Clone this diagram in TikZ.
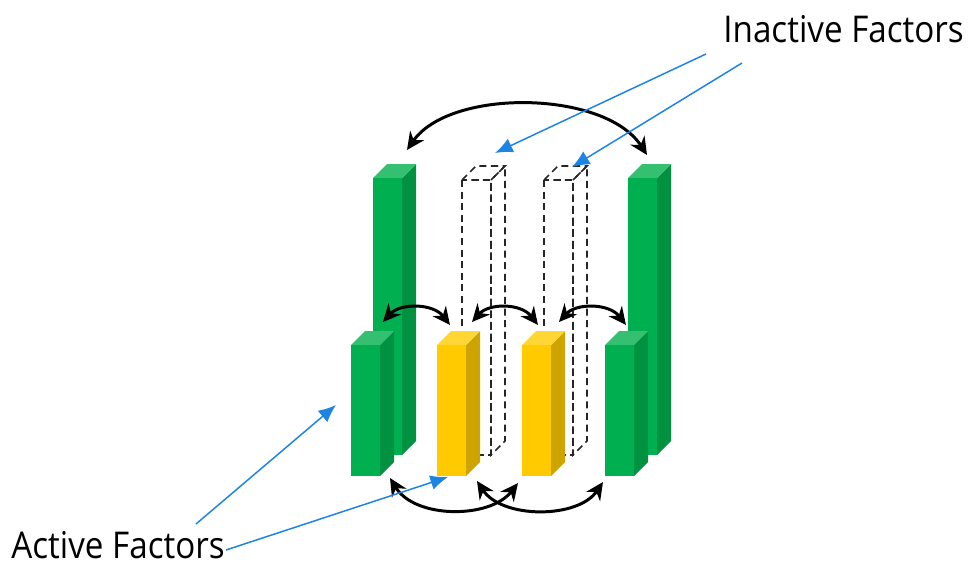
\documentclass[tikz,border=0pt]{standalone}
\usepackage{fontspec}
\setmainfont{Open Sans}[FakeStretch=0.9]
\usetikzlibrary{arrows.meta}

\definecolor{barGreen}{RGB}{0,176,80}
\definecolor{barGreenSide}{RGB}{0,146,64}
\definecolor{barGreenTop}{RGB}{52,192,112}
\definecolor{barYellow}{RGB}{255,202,0}
\definecolor{barYellowSide}{RGB}{206,164,0}
\definecolor{barYellowTop}{RGB}{255,214,51}
\definecolor{noteBlue}{RGB}{30,132,228}

\tikzset{
	green front/.style={fill=barGreen},
	green side/.style={fill=barGreenSide},
	green top/.style={fill=barGreenTop},
	yellow front/.style={fill=barYellow},
	yellow side/.style={fill=barYellowSide},
	yellow top/.style={fill=barYellowTop},
	ghost front/.style={draw=black!85, line width=0.9pt, dash pattern=on 4pt off 2.6pt},
	ghost side/.style={ghost front},
	ghost top/.style={ghost front},
	link arrow/.style={{Stealth[length=10pt,width=9.5pt]}-{Stealth[length=10pt,width=9.5pt]}, line width=1.7pt},
	note arrow/.style={-{Latex[length=10pt,width=8.5pt]}, draw=noteBlue, line width=0.85pt},
	label text/.style={font=\fontsize{21}{25}\selectfont, inner sep=0pt}
}

% box: [look](left x, top y, bottom y), y counted downwards
\def\factorbox[#1](#2,#3,#4){
	\path[#1 side] ({#2+29},#3) -- ({#2+43},{#3-14}) -- ({#2+43},{#4-14}) -- ({#2+29},#4) -- cycle;
	\path[#1 top] (#2,#3) -- ({#2+14},{#3-14}) -- ({#2+43},{#3-14}) -- ({#2+29},#3) -- cycle;
	\path[#1 front] (#2,#3) rectangle ({#2+29},#4);
}

\begin{document}
\begin{tikzpicture}[x=0.02cm, y=-0.02cm]
			%%%%% START %%%%%
			\useasboundingbox (0,0) rectangle (971,565);
			
			% back row
			\factorbox[green](373,178,455);
			\factorbox[ghost](462,180,455);
			\factorbox[ghost](544,180,455);
			\factorbox[green](628,178,455);
			
			% front row
			\factorbox[green](351,345,476);
			\factorbox[yellow](437,345,476);
			\factorbox[yellow](522,345,476);
			\factorbox[green](605,345,476);
			
			% arrow ends
			\coordinate (topL) at (407,150);
			\coordinate (topR) at (647,155);
			\coordinate (midAL) at (383,322);
			\coordinate (midAR) at (450,325);
			\coordinate (midBL) at (472,322);
			\coordinate (midBR) at (538,325);
			\coordinate (midCL) at (559,322);
			\coordinate (midCR) at (626,325);
			\coordinate (lowAL) at (390,478);
			\coordinate (lowAR) at (518,483);
			\coordinate (lowBL) at (477,481);
			\coordinate (lowBR) at (603,482);
			
			\draw[link arrow] (topL) .. controls (450,88) and (605,90) .. (topR);
			\draw[link arrow] (midAL) .. controls (400,303) and (433,303) .. (midAR);
			\draw[link arrow] (midBL) .. controls (489,303) and (521,303) .. (midBR);
			\draw[link arrow] (midCL) .. controls (576,303) and (609,303) .. (midCR);
			\draw[link arrow] (lowAL) .. controls (415,519) and (490,519) .. (lowAR);
			\draw[link arrow] (lowBL) .. controls (502,519) and (578,519) .. (lowBR);
			
			% labels
			\node[label text, anchor=base west] (inactive) at (723,42) {Inactive Factors};
			\node[label text, anchor=base west] (active) at (11,558) {Active Factors};
			
			\coordinate (inA) at (706,54);
			\coordinate (inB) at (742,63);
			\coordinate (inAtip) at (495,153);
			\coordinate (inBtip) at (572,167);
			\coordinate (acA) at (196,524);
			\coordinate (acB) at (226,550);
			\coordinate (acAtip) at (336,405);
			\coordinate (acBtip) at (448,477);
			
			\draw[note arrow] (inA) -- (inAtip);
			\draw[note arrow] (inB) -- (inBtip);
			\draw[note arrow] (acA) -- (acAtip);
			\draw[note arrow] (acB) -- (acBtip);
			%%%%% END %%%%%
\end{tikzpicture}
\end{document}
